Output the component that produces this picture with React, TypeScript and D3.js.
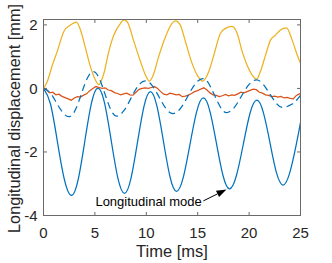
import React from "react";
import { scaleLinear, line, curveNatural, curveMonotoneX, curveLinear } from "d3";

// solid blue: longitudinal mode
const solidT = [0, 0.68, 1.36, 2.04, 2.72, 3.365, 4.01, 4.655, 5.3, 5.945, 6.59, 7.235, 7.88, 8.51, 9.14, 9.77, 10.4, 11.035, 11.67, 12.305, 12.94, 13.59, 14.245, 14.9, 15.55, 16.19, 16.825, 17.46, 18.1, 18.76, 19.43, 20.09, 20.75, 21.39, 22.03, 22.66, 23.3, 23.95, 24.6, 25];
const solidV = [0, -0.49, -1.69, -2.88, -3.37, -2.88, -1.68, -0.48, 0.01, -0.47, -1.645, -2.82, -3.3, -2.83, -1.7, -0.57, -0.1, -0.56, -1.67, -2.78, -3.24, -2.81, -1.77, -0.73, -0.3, -0.72, -1.73, -2.74, -3.16, -2.75, -1.765, -0.78, -0.37, -0.76, -1.705, -2.65, -3.04, -2.66, -1.745, -1.07];

// dashed blue
const dashT = [0, 0.63, 1.25, 1.88, 2.5, 3.09, 3.675, 4.26, 4.85, 5.41, 5.975, 6.54, 7.1, 7.8, 8.5, 9.2, 9.9, 10.575, 11.25, 11.925, 12.6, 13.325, 14.05, 14.775, 15.5, 16.07, 16.65, 17.23, 17.8, 18.53, 19.25, 19.98, 20.7, 21.35, 22.0, 22.65, 23.3, 24.15, 24.6, 25];
const dashV = [0, -0.13, -0.445, -0.76, -0.89, -0.68, -0.18, 0.32, 0.53, 0.325, -0.17, -0.665, -0.87, -0.71, -0.315, 0.08, 0.24, 0.09, -0.275, -0.64, -0.79, -0.63, -0.24, 0.15, 0.31, 0.155, -0.225, -0.6, -0.76, -0.61, -0.245, 0.12, 0.27, 0.14, -0.165, -0.47, -0.6, -0.5, -0.38, -0.22];

// orange
const orangeT = [0, 0.3, 0.6, 0.9, 1.2, 1.5, 1.8, 2.1, 2.4, 2.7, 3.0, 3.3, 3.6, 3.9, 4.2, 4.5, 4.8, 5.1, 5.4, 5.7, 6.0, 6.3, 6.6, 6.9, 7.2, 7.5, 7.8, 8.1, 8.4, 8.7, 9.0, 9.3, 9.6, 9.9, 10.2, 10.5, 10.8, 11.1, 11.4, 11.7, 12.0, 12.3, 12.6, 12.9, 13.2, 13.5, 13.8, 14.1, 14.4, 14.7, 15.0, 15.3, 15.6, 15.9, 16.2, 16.5, 16.8, 17.1, 17.4, 17.7, 18.0, 18.3, 18.6, 18.9, 19.2, 19.5, 19.8, 20.1, 20.4, 20.7, 21.0, 21.3, 21.6, 21.9, 22.2, 22.5, 22.8, 23.1, 23.4, 23.7, 24.0, 24.3, 24.6, 24.9, 25];
const orangeV = [0, -0.05, -0.14, -0.12, -0.2, -0.18, -0.25, -0.29, -0.33, -0.37, -0.3, -0.26, -0.27, -0.21, -0.17, -0.07, 0.0, 0.06, 0.03, 0.0, 0.02, -0.05, -0.07, -0.13, -0.16, -0.2, -0.17, -0.15, -0.2, -0.21, -0.12, -0.03, 0.0, 0.02, 0.0, 0.03, 0.06, 0.0, -0.1, -0.18, -0.2, -0.15, -0.17, -0.2, -0.19, -0.26, -0.24, -0.21, -0.16, -0.1, -0.07, -0.02, 0.02, -0.05, -0.14, -0.2, -0.22, -0.26, -0.23, -0.19, -0.23, -0.2, -0.22, -0.17, -0.12, -0.14, -0.1, -0.06, -0.02, -0.04, -0.12, -0.15, -0.2, -0.22, -0.26, -0.24, -0.27, -0.25, -0.3, -0.28, -0.31, -0.33, -0.22, -0.17, -0.15];

// yellow
const yellowT = [0, 0.36, 0.85, 1.33, 1.98, 2.63, 3.2, 3.6, 4.09, 4.57, 5.06, 5.38, 5.87, 6.35, 6.84, 7.49, 7.81, 8.14, 8.79, 9.44, 9.92, 10.3, 10.73, 11.2, 11.87, 12.5, 12.84, 13.3, 13.8, 14.46, 14.95, 15.5, 16.08, 16.57, 17.2, 17.7, 18.35, 18.84, 19.33, 19.8, 20.3, 20.72, 21.1, 21.6, 22.08, 22.57, 23.05, 23.64, 24.19, 24.68, 25];
const yellowV = [0, 0.21, 0.72, 1.16, 1.79, 2.0, 2.09, 1.84, 1.26, 0.68, 0.26, 0.12, 0.47, 1.16, 1.68, 2.05, 2.16, 2.1, 1.48, 0.84, 0.42, 0.23, 0.47, 1.0, 1.63, 2.05, 2.13, 2.0, 1.48, 0.78, 0.42, 0.23, 0.53, 1.05, 1.73, 1.89, 1.95, 1.73, 1.16, 0.74, 0.42, 0.29, 0.53, 1.05, 1.52, 1.68, 1.84, 1.91, 1.52, 1.05, 0.79];

const xTicks = [0, 5, 10, 15, 20, 25];
const yTicks = [-4, -2, 0, 2];

// annotation: text anchor and arrow (time, value)
const noteText = "Longitudinal mode";
const noteAt = [5.05, -3.69];
const arrowFrom = [15.55, -3.54];
const arrowTo = [17.8, -3.18];

const W = 332, H = 263;
const margin = { top: 19.5, right: 31.5, bottom: 47.5, left: 43.5 };
const font = "'Liberation Sans', Arial, Helvetica, sans-serif";
const axisColor = "#6a6a6a";
const textColor = "#262626";

const App: React.FC = () => {
    const x = scaleLinear().domain([0, 25]).range([margin.left, W - margin.right]);
    const y = scaleLinear().domain([-4, 2.17]).range([H - margin.bottom, margin.top]);

    const mk = (ts: number[], vs: number[], curve: any) =>
        line<number>()
            .x((_, i) => x(ts[i]))
            .y(v => y(v))
            .curve(curve)(vs) as string;

    const x0 = x(0), x1 = x(25), y0 = y(-4), y1 = y(2.17);
    const tick = 3.5;

    // arrow head
    const ax0 = x(arrowFrom[0]), ay0 = y(arrowFrom[1]);
    const ax1 = x(arrowTo[0]), ay1 = y(arrowTo[1]);
    const ang = Math.atan2(ay1 - ay0, ax1 - ax0);
    const hl = 10, hw = 3.5;
    const bx = ax1 - hl * Math.cos(ang), by = ay1 - hl * Math.sin(ang);
    const head = [
        [ax1, ay1],
        [bx + hw * Math.sin(ang), by - hw * Math.cos(ang)],
        [bx - hw * Math.sin(ang), by + hw * Math.cos(ang)],
    ].map(p => p.join(",")).join(" ");

    return (
        <svg width={W} height={H} style={{ position: "absolute", left: 0, top: 0 }} fontFamily={font}>
            <rect width={W} height={H} fill="#fff" />
            <defs>
                <clipPath id="plot">
                    <rect x={x0} y={y1} width={x1 - x0} height={y0 - y1} />
                </clipPath>
            </defs>
            <g clipPath="url(#plot)" fill="none" strokeWidth={1.25}>
                <path d={mk(solidT, solidV, curveNatural)} stroke="#0072BD" />
                <path d={mk(orangeT, orangeV, curveLinear)} stroke="#D95319" />
                <path d={mk(yellowT, yellowV, curveMonotoneX)} stroke="#EDB120" />
                <path d={mk(dashT, dashV, curveNatural)} stroke="#0072BD" strokeDasharray="7,4.5" />
            </g>

            {/* box */}
            <rect x={x0} y={y1} width={x1 - x0} height={y0 - y1} fill="none" stroke={axisColor} strokeWidth={1} />
            {xTicks.map(t => (
                <g key={"x" + t}>
                    <line x1={x(t)} x2={x(t)} y1={y0} y2={y0 - tick} stroke={axisColor} />
                    <line x1={x(t)} x2={x(t)} y1={y1} y2={y1 + tick} stroke={axisColor} />
                    <text x={x(t)} y={y0 + 22.5} textAnchor="middle" fontSize={15} fill={textColor}>{t}</text>
                </g>
            ))}
            {yTicks.map(t => (
                <g key={"y" + t}>
                    <line x1={x0} x2={x0 + tick} y1={y(t)} y2={y(t)} stroke={axisColor} />
                    <line x1={x1} x2={x1 - tick} y1={y(t)} y2={y(t)} stroke={axisColor} />
                    <text x={37.5} y={y(t) + 5.4} textAnchor="end" fontSize={15} fill={textColor}>{t}</text>
                </g>
            ))}

            <text x={(x0 + x1) / 2} y={256.5} textAnchor="middle" fontSize={16.5} fill={textColor}>Time [ms]</text>
            <text transform={`translate(20,${(y0 + y1) / 2 + 1}) rotate(-90)`} textAnchor="middle" fontSize={16.3} fill={textColor}>
                Longitudinal displacement [mm]
            </text>

            {/* annotation */}
            <text x={x(noteAt[0])} y={y(noteAt[1])} fontSize={13} fill="#000">{noteText}</text>
            <line x1={ax0} y1={ay0} x2={bx} y2={by} stroke="#000" strokeWidth={1} />
            <polygon points={head} fill="#000" />
        </svg>
    );
};

export default App;
